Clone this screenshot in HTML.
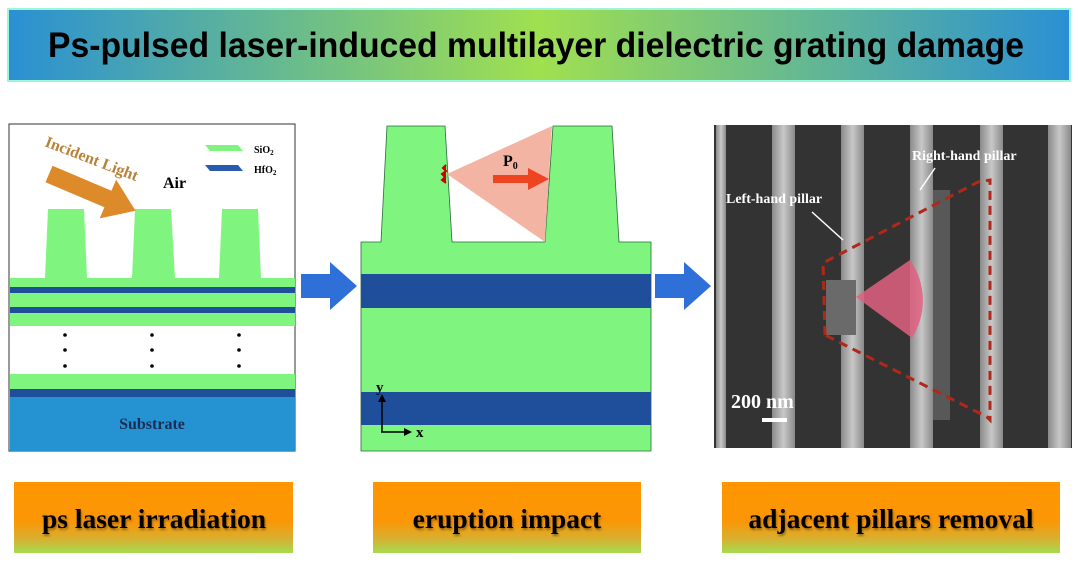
<!DOCTYPE html>
<html><head><meta charset="utf-8"><style>
html,body{margin:0;padding:0;background:#fff;}
svg{display:block;}
</style></head><body>
<svg width="1078" height="563" viewBox="0 0 1078 563" xmlns="http://www.w3.org/2000/svg">
<defs>
<linearGradient id="tg" x1="0" x2="1" y1="0" y2="0">
<stop offset="0" stop-color="#2a90d4"/><stop offset="0.5" stop-color="#a0e050"/><stop offset="1" stop-color="#2a90d4"/>
</linearGradient>
<linearGradient id="bg" x1="0" x2="0" y1="0" y2="1">
<stop offset="0" stop-color="#ff9500"/><stop offset="0.55" stop-color="#fb9606"/><stop offset="0.8" stop-color="#d8b030"/><stop offset="1" stop-color="#a4dc50"/>
</linearGradient>
<linearGradient id="sg" x1="0" x2="1" y1="0" y2="0">
<stop offset="0" stop-color="#8a8a8a"/><stop offset="0.5" stop-color="#c8c8c8"/><stop offset="1" stop-color="#8a8a8a"/>
</linearGradient>
<filter id="sh"><feDropShadow dx="1" dy="2" stdDeviation="1" flood-color="#000" flood-opacity="0.35"/></filter>
</defs>
<!-- title -->
<rect x="8" y="9" width="1062" height="72" fill="url(#tg)" stroke="#9ff5d8" stroke-width="2"/>
<text x="48" y="57" textLength="976" lengthAdjust="spacingAndGlyphs" font-family="Liberation Sans, sans-serif" font-weight="bold" font-size="35" fill="#000">Ps-pulsed laser-induced multilayer dielectric grating  damage</text>

<!-- panel 1 -->
<rect x="9" y="124" width="286" height="327" fill="#fff" stroke="#333" stroke-width="1"/>
<g fill="#7ff57f">
<polygon points="45,278 48,209 84,209 87,278"/>
<polygon points="132,278 135,209 171,209 175,278"/>
<polygon points="219,278 222,209 258,209 261,278"/>
<rect x="10" y="278" width="285" height="9"/>
<rect x="10" y="293" width="285" height="14"/>
<rect x="10" y="313" width="285" height="13"/>
<rect x="10" y="374" width="285" height="15"/>
</g>
<g fill="#1f4f9a">
<rect x="10" y="287" width="285" height="6"/>
<rect x="10" y="307" width="285" height="6"/>
<rect x="10" y="389" width="285" height="8"/>
</g>
<rect x="10" y="397" width="285" height="54" fill="#2592d2"/>
<text x="152" y="429" font-family="Liberation Serif, serif" font-weight="bold" font-size="16" text-anchor="middle" fill="#1a2e55">Substrate</text>
<g fill="#000">
<circle cx="65" cy="335" r="1.8"/><circle cx="65" cy="350" r="1.8"/><circle cx="65" cy="366" r="1.8"/>
<circle cx="152" cy="335" r="1.8"/><circle cx="152" cy="350" r="1.8"/><circle cx="152" cy="366" r="1.8"/>
<circle cx="239" cy="335" r="1.8"/><circle cx="239" cy="350" r="1.8"/><circle cx="239" cy="366" r="1.8"/>
</g>
<g transform="translate(49,174) rotate(23)">
<polygon points="0,-9 64,-9 64,-21 94,0 64,21 64,9 0,9" fill="#dd8a2a"/>
</g>
<text transform="translate(44,146) rotate(21)" font-family="Liberation Serif, serif" font-weight="bold" font-size="16" fill="#b8823a">Incident Light</text>
<text x="163" y="188" font-family="Liberation Serif, serif" font-weight="bold" font-size="16" fill="#000">Air</text>
<polygon points="205,145 238,145 243,151 210,151" fill="#7ff57f"/>
<polygon points="205,165 238,165 243,171 210,171" fill="#2a5ab0"/>
<text x="254" y="153" font-family="Liberation Serif, serif" font-weight="bold" font-size="10" fill="#000">SiO<tspan font-size="7" dy="2">2</tspan></text>
<text x="254" y="173" font-family="Liberation Serif, serif" font-weight="bold" font-size="10" fill="#000">HfO<tspan font-size="7" dy="2">2</tspan></text>

<!-- blue arrows -->
<polygon points="301,274 330,274 330,262 357,286 330,310 330,298 301,298" fill="#2f6fd8"/>
<polygon points="655,274 684,274 684,262 711,286 684,310 684,298 655,298" fill="#2f6fd8"/>

<!-- panel 2 -->
<polygon points="361,451 361,242 381,242 387,126 445,126 452,242 545,242 553,126 612,126 619,242 651,242 651,451" fill="#7ff57f" stroke="#2a6a3a" stroke-width="0.8"/>
<rect x="361" y="274" width="290" height="34" fill="#1f4f9a"/>
<rect x="361" y="392" width="290" height="33" fill="#1f4f9a"/>
<polygon points="447,174 552,126 545,242" fill="#f4b4a4"/>
<path d="M446,165 l-3,3 l3,3 l-4,3 l3,3 l-3,3 l4,3" fill="#c00" stroke="#c00" stroke-width="2"/>
<polygon points="493,175 528,175 528,168 549,179 528,190 528,183 493,183" fill="#ee4422"/>
<text x="503" y="166" font-family="Liberation Serif, serif" font-weight="bold" font-size="16" fill="#000">P<tspan font-size="10" dy="3">0</tspan></text>
<g stroke="#000" stroke-width="1.5" fill="none">
<line x1="382" y1="432" x2="382" y2="400"/>
<line x1="381" y1="432" x2="406" y2="432"/>
</g>
<polygon points="378,402 382,394 386,402" fill="#000"/>
<polygon points="404,428 412,432 404,436" fill="#000"/>
<text x="376" y="392" font-family="Liberation Serif, serif" font-weight="bold" font-size="15" fill="#000">y</text>
<text x="416" y="437" font-family="Liberation Serif, serif" font-weight="bold" font-size="15" fill="#000">x</text>

<!-- SEM panel -->
<rect x="714" y="125" width="358" height="323" fill="#333"/>
<g fill="url(#sg)">
<rect x="716" y="125" width="10" height="323"/>
<rect x="772" y="125" width="23" height="323"/>
<rect x="841" y="125" width="23" height="323"/>
<rect x="910" y="125" width="23" height="323"/>
<rect x="980" y="125" width="23" height="323"/>
<rect x="1048" y="125" width="23" height="323"/>
</g>
<rect x="933" y="190" width="17" height="230" fill="#585858"/>
<rect x="826" y="280" width="30" height="55" fill="#6a6a6a"/>
<path d="M856,297 L910,260 A70,70 0 0 1 912,338 Z" fill="#e06080" opacity="0.85"/>
<polyline points="825,335 823,263 978,182 990,180 990,420 987,417 825,335" fill="none" stroke="#b02818" stroke-width="3" stroke-dasharray="9,6"/>
<text x="912" y="160" font-family="Liberation Serif, serif" font-weight="bold" font-size="14" fill="#fff">Right-hand pillar</text>
<text x="726" y="203" font-family="Liberation Serif, serif" font-weight="bold" font-size="14" fill="#fff">Left-hand pillar</text>
<line x1="935" y1="168" x2="920" y2="190" stroke="#fff" stroke-width="1.5"/>
<line x1="812" y1="212" x2="843" y2="240" stroke="#fff" stroke-width="1.5"/>
<text x="731" y="408" font-family="Liberation Serif, serif" font-weight="bold" font-size="20" fill="#fff">200 nm</text>
<rect x="762" y="418" width="25" height="4" fill="#fff"/>

<!-- bottom boxes -->
<rect x="14" y="482" width="279" height="71" fill="url(#bg)"/>
<rect x="373" y="482" width="268" height="71" fill="url(#bg)"/>
<rect x="722" y="482" width="338" height="71" fill="url(#bg)"/>
<g font-family="Liberation Serif, serif" font-weight="bold" font-size="27.5" text-anchor="middle" fill="#000" filter="url(#sh)">
<text x="154" y="528">ps laser irradiation</text>
<text x="507" y="528">eruption impact</text>
<text x="891" y="528">adjacent pillars removal</text>
</g>
</svg>
</body></html>
